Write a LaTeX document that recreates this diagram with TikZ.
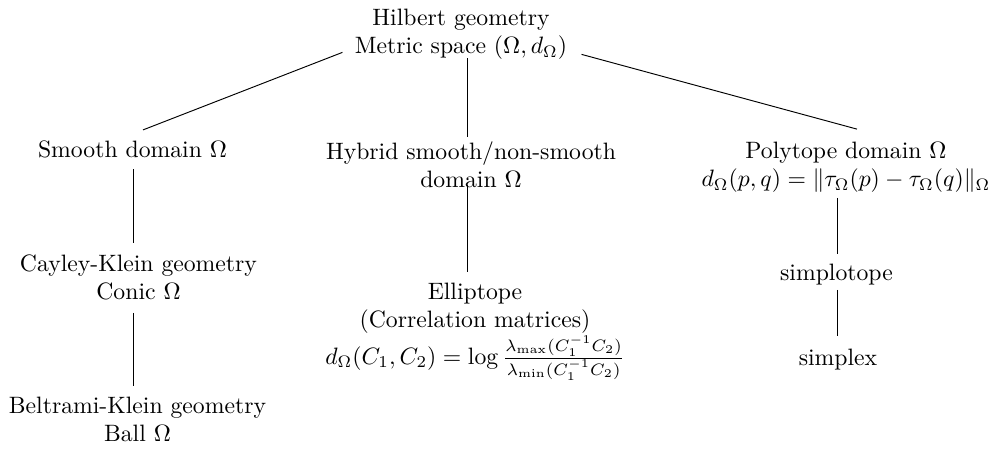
\documentclass[tikz,border=0pt]{standalone}
\usepackage{amsmath}
\usepackage{amssymb}

\begin{document}
\begin{tikzpicture}[x=0.014837cm, y=-0.014837cm,
        every node/.style={align=center, inner sep=0pt}]
        \useasboundingbox (0,0) rectangle (993,449);

        % Nodes
        \node (root) at (461,34.5) {Hilbert geometry\\Metric space $(\Omega,d_\Omega)$};
        \node (smooth) at (132.5,149) {Smooth domain $\Omega$};
        \node (hybrid) at (471,164.5) {Hybrid smooth/non-smooth\\domain $\Omega$};
        \node (poly) at (846,167) {Polytope domain $\Omega$\\$d_\Omega(p,q)=\|\tau_\Omega(p)-\tau_\Omega(q)\|_\Omega$};
        \node (cayley) at (138.5,277.5) {Cayley-Klein geometry\\Conic $\Omega$};
        \node (beltrami) at (137.5,419.5) {Beltrami-Klein geometry\\Ball $\Omega$};
        \node (ellip) at (475,331.5) {Elliptope\\(Correlation matrices)\\$d_\Omega(C_1,C_2)=\log\frac{\lambda_{\max}(C_1^{-1}C_2)}{\lambda_{\min}(C_1^{-1}C_2)}$};
        \node (simplo) at (836.5,275) {simplotope};
        \node (simplex) at (838,360) {simplex};

        % Edges from the root
        \draw ([shift={(-12,-8)}]root.south west) -- ([shift={(10.5,-10)}]smooth.north);
        \draw ([shift={(6,-2)}]root.south) -- ([shift={(-4,-4)}]hybrid.north);
        \draw ([shift={(14,-6)}]root.south east) -- ([shift={(11,-12)}]poly.north);

        % Edges down the branches
        \draw ([shift={(0.5,11)}]smooth.south) -- ([shift={(-5.5,-11)}]cayley.north);
        \draw ([shift={(-5.5,12)}]cayley.south) -- ([shift={(-4.5,-10)}]beltrami.north);
        \draw ([shift={(-4,-3)}]hybrid.south) -- ([shift={(-8,-10)}]ellip.north);
        \draw ([shift={(-9,5)}]poly.south) -- ([shift={(0.5,-10)}]simplo.north);
        \draw ([shift={(0.5,4)}]simplo.south) -- ([shift={(-1,-13)}]simplex.north);
\end{tikzpicture}
\end{document}
